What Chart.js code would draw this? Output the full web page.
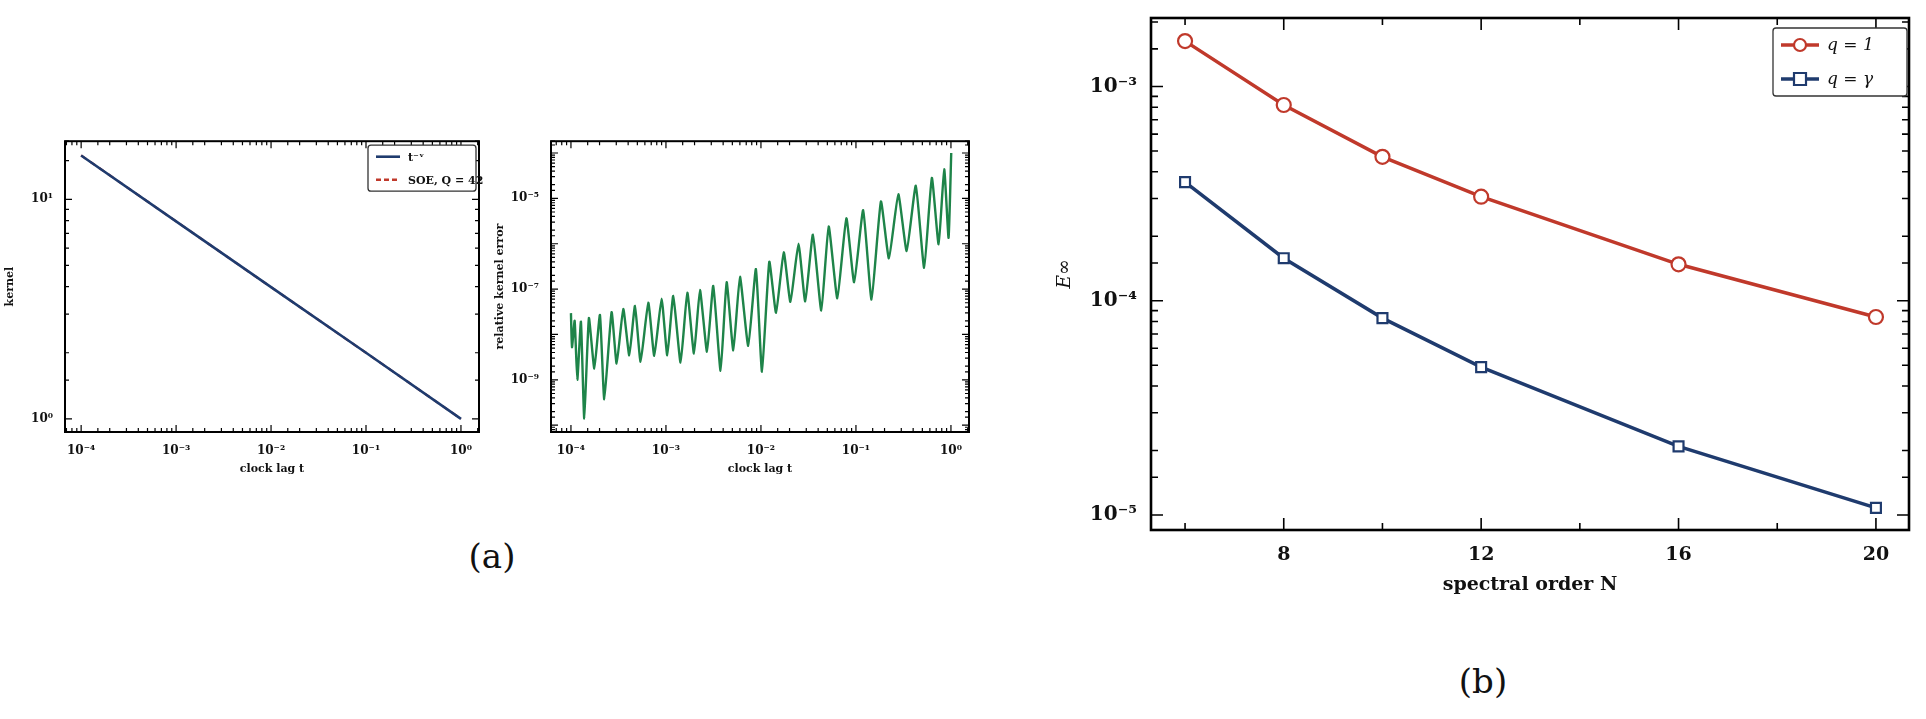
<!DOCTYPE html>
<html><head><meta charset="utf-8">
<script src="https://cdn.jsdelivr.net/npm/chart.js@4.4.0/dist/chart.umd.min.js"></script>
<style>
body{margin:0;background:#fff;width:1926px;height:719px;position:relative;overflow:hidden;font-family:"DejaVu Serif",serif}
canvas{position:absolute}
.lab{position:absolute;font-family:"DejaVu Serif",serif;font-size:34px;color:#111;transform:translate(-50%,-50%)}
</style></head><body>
<canvas id="c1" style="left:0;top:130px;width:485px;height:350px" width="485" height="350"></canvas>
<canvas id="c2" style="left:490px;top:130px;width:485px;height:350px" width="485" height="350"></canvas>
<canvas id="c3" style="left:1050px;top:0;width:876px;height:600px" width="876" height="600"></canvas>
<div class="lab" style="left:492px;top:556px">(a)</div>
<div class="lab" style="left:1483px;top:681px">(b)</div>
<script>
// ---- data ----
const kernelT = [1e-4, 1e-3, 1e-2, 1e-1, 1];
const kernelExact = [15.85, 7.94, 3.98, 2.0, 1.0];
const kernelSOE = [15.85, 7.94, 3.98, 2.0, 1.0];
// relative kernel error: log10(t), log10(err)
const errLogT = [-4.000,-3.989,-3.961,-3.933,-3.895,-3.860,-3.811,-3.754,-3.695,-3.649,-3.572,-3.519,-3.449,-3.386,-3.326,-3.267,-3.186,-3.123,-3.046,-2.986,-2.923,-2.846,-2.775,-2.705,-2.642,-2.568,-2.502,-2.425,-2.361,-2.291,-2.221,-2.134,-2.053,-1.989,-1.912,-1.841,-1.760,-1.690,-1.605,-1.534,-1.453,-1.365,-1.287,-1.196,-1.101,-1.019,-0.924,-0.836,-0.737,-0.653,-0.554,-0.466,-0.370,-0.282,-0.201,-0.130,-0.071,-0.025,0.003];
const errLogE = [-7.53,-8.28,-7.70,-9.00,-7.72,-9.85,-7.64,-8.75,-7.57,-9.43,-7.51,-8.64,-7.44,-8.46,-7.37,-8.60,-7.30,-8.47,-7.21,-8.46,-7.15,-8.62,-7.08,-8.42,-7.02,-8.38,-6.93,-8.80,-6.85,-8.35,-6.73,-8.25,-6.56,-8.82,-6.40,-7.52,-6.19,-7.28,-6.00,-7.27,-5.80,-7.47,-5.62,-7.20,-5.44,-6.85,-5.26,-7.23,-5.07,-6.32,-4.91,-6.16,-4.72,-6.53,-4.55,-6.01,-4.36,-5.87,-4.00];
const orderN = [6, 8, 10, 12, 16, 20];
const errQ1 = [1.63e-3, 8.2e-4, 4.7e-4, 3.06e-4, 1.48e-4, 8.4e-5];
const errQgamma = [3.58e-4, 1.58e-4, 8.3e-5, 4.9e-5, 2.09e-5, 1.08e-5];

const RED = '#c0392b', BLUE = '#1f3b6e', GREEN = '#1e8449';
const SUP = {'-':'⁻','0':'⁰','1':'¹','2':'²','3':'³','4':'⁴','5':'⁵','6':'⁶','7':'⁷','8':'⁸','9':'⁹'};
const sup = s => String(s).split('').map(c => SUP[c] || c).join('');
const isPow10 = v => { const l = Math.log10(v); return Math.abs(l - Math.round(l)) < 1e-6; };
const powLabel = (v, filt) => { if (!isPow10(v)) return ''; const e = Math.round(Math.log10(v)); if (filt && !filt(e)) return ''; return '10' + sup(e); };

// plugin: frame + inward ticks on all sides + boxed legend
const framePlugin = {
  id: 'frame',
  afterDraw(chart, args, opts) {
    const {ctx, chartArea: a} = chart;
    ctx.save();
    ctx.strokeStyle = '#000';
    ctx.lineWidth = opts.lw || 2;
    ctx.strokeRect(a.left, a.top, a.right - a.left, a.bottom - a.top);
    ctx.lineWidth = opts.tw || 1.2;
    const L = opts.major || 7, l = opts.minor || 4;
    const xs = chart.scales.x, ys = chart.scales.y;
    xs.ticks.forEach(t => {
      const p = xs.getPixelForValue(t.value);
      if (p < a.left - 0.5 || p > a.right + 0.5) return;
      const len = opts.isMajorX(t.value) ? L : l;
      ctx.beginPath(); ctx.moveTo(p, a.bottom); ctx.lineTo(p, a.bottom - len);
      ctx.moveTo(p, a.top); ctx.lineTo(p, a.top + len); ctx.stroke();
    });
    ys.ticks.forEach(t => {
      const p = ys.getPixelForValue(t.value);
      if (p < a.top - 0.5 || p > a.bottom + 0.5) return;
      const len = opts.isMajorY(t.value) ? L : l;
      ctx.beginPath(); ctx.moveTo(a.left, p); ctx.lineTo(a.left + len, p);
      ctx.moveTo(a.right, p); ctx.lineTo(a.right - len, p); ctx.stroke();
    });
    const lg = opts.legend;
    if (lg) {
      const x = a.right - lg.w - lg.dx, y = a.top + lg.dy;
      ctx.fillStyle = '#fff'; ctx.strokeStyle = '#333'; ctx.lineWidth = 1.3;
      ctx.beginPath(); ctx.roundRect(x, y, lg.w, lg.h, 3); ctx.fill(); ctx.stroke();
      lg.items.forEach((it, i) => {
        const cy = y + lg.h / (lg.items.length * 2) * (2 * i + 1);
        ctx.strokeStyle = it.color; ctx.lineWidth = it.lw; ctx.setLineDash(it.dash || []);
        ctx.beginPath(); ctx.moveTo(x + 8, cy); ctx.lineTo(x + 8 + lg.line, cy); ctx.stroke();
        ctx.setLineDash([]);
        if (it.marker) {
          const mx = x + 8 + lg.line / 2;
          ctx.fillStyle = '#fff'; ctx.lineWidth = 2.2;
          ctx.beginPath();
          if (it.marker === 'circle') ctx.arc(mx, cy, 6, 0, Math.PI * 2); else ctx.rect(mx - 6, cy - 6, 12, 12);
          ctx.fill(); ctx.stroke();
        }
        ctx.fillStyle = '#111'; ctx.font = lg.font; ctx.textBaseline = 'middle';
        ctx.fillText(it.text, x + 16 + lg.line, cy + 1);
      });
    }
    ctx.restore();
  }
};
Chart.register(framePlugin);

const smallTick = {family: 'DejaVu Serif', size: 12, weight: 'bold'};
const smallTitle = {family: 'DejaVu Serif', size: 11, weight: 'bold'};
function logAxis(min, max, width, filt, title, isX, height) {
  const ax = {
    type: 'logarithmic', min, max,
    grid: {display: false}, border: {display: false},
    ticks: {autoSkip: false, maxRotation: 0, font: smallTick, color: '#111', padding: 4,
            callback: v => powLabel(v, filt)},
    title: {display: true, text: title, font: smallTitle, color: '#111', padding: isX ? {top: 0} : {bottom: 2}}
  };
  ax.afterFit = isX ? (s => { s.height = height; }) : (s => { s.width = width; });
  return ax;
}

new Chart(document.getElementById('c1'), {
  type: 'line',
  data: {datasets: [
    {data: kernelT.map((t, i) => ({x: t, y: kernelExact[i]})), borderColor: BLUE, borderWidth: 2.6, pointRadius: 0},
    {data: kernelT.map((t, i) => ({x: t, y: kernelSOE[i]})), borderColor: RED, borderWidth: 2.2, borderDash: [6, 5], pointRadius: 0}
  ]},
  options: {
    responsive: false, animation: false, parsing: true,
    layout: {padding: {top: 8, right: 6, left: 0, bottom: 0}},
    plugins: {legend: {display: false}, tooltip: {enabled: false},
      frame: {isMajorX: isPow10, isMajorY: isPow10,
        legend: {w: 108, h: 46, dx: 3, dy: 4, line: 24, font: 'bold 11px "DejaVu Serif"',
          items: [{text: 't⁻ᵛ', color: BLUE, lw: 2.6}, {text: 'SOE, Q = 42', color: RED, lw: 2.6, dash: [5, 3]}]}}},
    scales: {
      x: logAxis(Math.pow(10, -4.17), Math.pow(10, 0.19), 0, null, 'clock lag t', true, 48),
      y: logAxis(Math.pow(10, -0.06), Math.pow(10, 1.265), 65, null, 'kernel', false)
    }
  }
});

new Chart(document.getElementById('c2'), {
  type: 'line',
  data: {datasets: [
    {data: errLogT.map((t, i) => ({x: Math.pow(10, t), y: Math.pow(10, errLogE[i])})), borderColor: GREEN, borderWidth: 2.4, pointRadius: 0, tension: 0.15}
  ]},
  options: {
    responsive: false, animation: false,
    layout: {padding: {top: 8, right: 6, left: 0, bottom: 0}},
    plugins: {legend: {display: false}, tooltip: {enabled: false},
      frame: {isMajorX: isPow10, isMajorY: isPow10}},
    scales: {
      x: logAxis(Math.pow(10, -4.21), Math.pow(10, 0.19), 0, null, 'clock lag t', true, 48),
      y: logAxis(Math.pow(10, -10.15), Math.pow(10, -3.74), 61, e => Math.abs(e) % 2 === 1, 'relative kernel error', false)
    }
  }
});

new Chart(document.getElementById('c3'), {
  type: 'line',
  data: {datasets: [
    {data: orderN.map((n, i) => ({x: n, y: errQ1[i]})), borderColor: RED, borderWidth: 3.5, pointStyle: 'circle', pointRadius: 7, pointBorderWidth: 2.2, pointBackgroundColor: '#fff', pointBorderColor: RED},
    {data: orderN.map((n, i) => ({x: n, y: errQgamma[i]})), borderColor: BLUE, borderWidth: 3.5, pointStyle: 'rect', pointRadius: 7, pointBorderWidth: 2.2, pointBackgroundColor: '#fff', pointBorderColor: BLUE}
  ]},
  options: {
    responsive: false, animation: false,
    layout: {padding: {top: 17, right: 17, left: 0, bottom: 0}},
    plugins: {legend: {display: false}, tooltip: {enabled: false},
      frame: {lw: 2.6, tw: 1.6, major: 12, minor: 7,
        isMajorX: v => v % 4 === 0, isMajorY: isPow10,
        legend: {w: 134, h: 68, dx: 2, dy: 10, line: 38, font: 'italic 17px "DejaVu Serif"',
          items: [{text: 'q = 1', color: RED, lw: 3.5, marker: 'circle'}, {text: 'q = γ', color: BLUE, lw: 3.5, marker: 'rect'}]}}},
    scales: {
      x: {type: 'linear', min: 5.31, max: 20.67, grid: {display: false}, border: {display: false},
        afterBuildTicks: s => { s.ticks = [6, 8, 10, 12, 14, 16, 18, 20].map(v => ({value: v})); },
        ticks: {autoSkip: false, maxRotation: 0, font: {family: 'DejaVu Serif', size: 19, weight: 'bold'}, color: '#111', padding: 6,
          callback: v => v % 4 === 0 ? String(v) : ''},
        title: {display: true, text: 'spectral order N', font: {family: 'DejaVu Serif', size: 19, weight: 'bold'}, color: '#111', padding: {top: 2}},
        afterFit: s => { s.height = 70; }},
      y: {type: 'logarithmic', min: Math.pow(10, -5.07), max: Math.pow(10, -2.68), grid: {display: false}, border: {display: false},
        ticks: {autoSkip: false, font: {family: 'DejaVu Serif', size: 20, weight: 'bold'}, color: '#111', padding: 6, callback: v => powLabel(v)},
        title: {display: true, text: 'E∞', font: {family: 'DejaVu Serif', size: 19, style: 'italic'}, color: '#111', padding: {bottom: 4}},
        afterFit: s => { s.width = 101; }}
    }
  }
});
</script>
</body></html>
